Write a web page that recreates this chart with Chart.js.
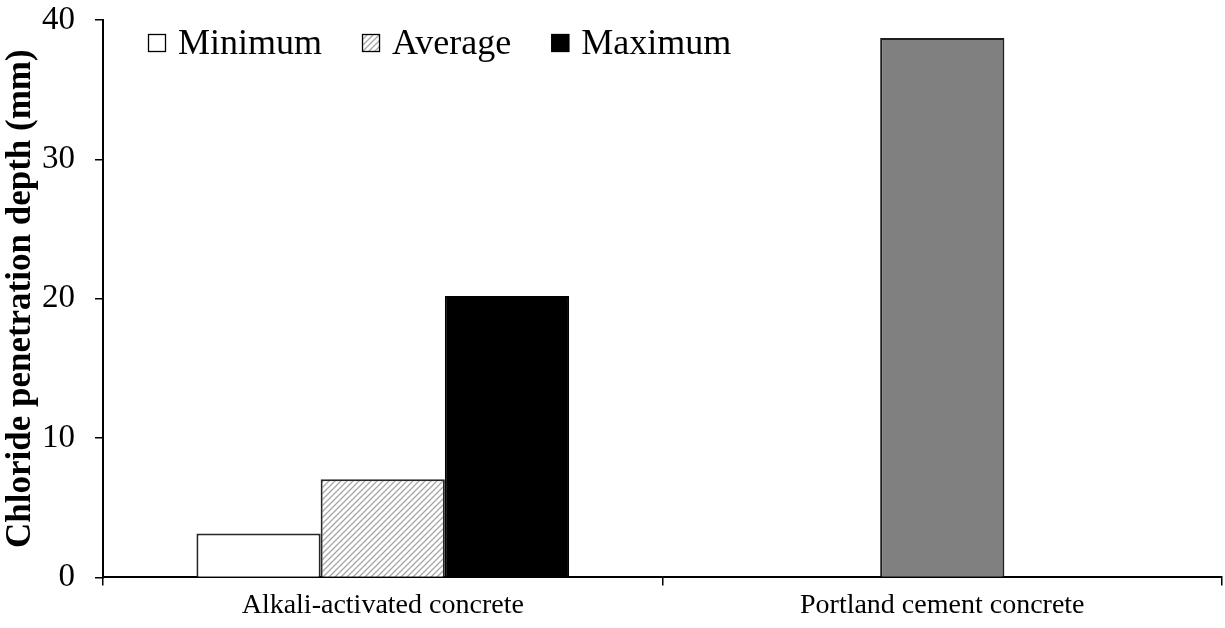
<!DOCTYPE html>
<html>
<head>
<meta charset="utf-8">
<script src="https://cdn.jsdelivr.net/npm/chart.js@4/dist/chart.umd.min.js"></script>
<style>
  html, body { margin: 0; padding: 0; background: #fff; }
  #wrap { width: 1225px; height: 628px; }
</style>
</head>
<body>
<div id="wrap"><canvas id="c" width="1225" height="628"></canvas></div>
<script>
// Chloride penetration depth (mm)
const categories = ['Alkali-activated concrete', 'Portland cement concrete'];
const minimumDepth = [3.15, null];
const averageDepth = [7.05, null];
const maximumDepth = [20.2, null];
const portlandDepth = [null, 38.7];
const yTicks = [0, 10, 20, 30, 40];

const SERIF = '"Liberation Serif", "Times New Roman", serif';
const canvas = document.getElementById('c');
const ctx = canvas.getContext('2d');

// diagonal hatch fill for the "Average" series
function makeHatch() {
  const t = document.createElement('canvas');
  t.width = 6; t.height = 6;
  const g = t.getContext('2d');
  g.fillStyle = '#ffffff';
  g.fillRect(0, 0, 6, 6);
  g.strokeStyle = '#a6a6a6';
  g.lineWidth = 1.3;
  g.beginPath();
  g.moveTo(-1, 7); g.lineTo(7, -1);
  g.moveTo(-1, 1); g.lineTo(1, -1);
  g.moveTo(5, 7); g.lineTo(7, 5);
  g.stroke();
  return ctx.createPattern(t, 'repeat');
}
const hatch = makeHatch();

// legend drawn inside the plot area, top-left
const insideLegend = {
  id: 'insideLegend',
  afterDraw(chart) {
    const c = chart.ctx;
    const items = chart.data.datasets.filter(d => d.inLegend);
    const fontSize = 36;
    const box = 18;
    const cy = 43;
    let x = 148;
    c.save();
    c.font = fontSize + 'px ' + SERIF;
    c.textBaseline = 'middle';
    c.textAlign = 'left';
    items.forEach(d => {
      c.fillStyle = d.backgroundColor;
      c.fillRect(x, cy - box / 2, box, box);
      c.strokeStyle = '#000';
      c.lineWidth = 1.3;
      c.strokeRect(x + 0.5, cy - box / 2 + 0.5, box - 1, box - 1);
      const tx = x + box + 12;
      c.fillStyle = '#000';
      c.fillText(d.label, tx, cy + 2);
      x = tx + c.measureText(d.label).width + 40;
    });
    c.restore();
  }
};

new Chart(ctx, {
  type: 'bar',
  data: {
    labels: categories,
    datasets: [
      { label: 'Minimum', data: minimumDepth, stack: 'min', inLegend: true,
        backgroundColor: '#ffffff', borderColor: '#262626', borderWidth: 2 },
      { label: 'Average', data: averageDepth, stack: 'avg', inLegend: true,
        backgroundColor: hatch, borderColor: '#262626', borderWidth: 2 },
      { label: 'Maximum', data: maximumDepth, stack: 'max', inLegend: true,
        backgroundColor: '#000000', borderColor: '#000000', borderWidth: 2 },
      { label: 'Portland cement', data: portlandDepth, stack: 'avg', inLegend: false,
        backgroundColor: '#808080', borderColor: '#1e1e1e', borderWidth: 2 }
    ]
  },
  options: {
    responsive: false,
    animation: false,
    devicePixelRatio: 1,
    categoryPercentage: 0.666,
    barPercentage: 1.0,
    layout: { padding: { top: 20, right: 3, bottom: 3, left: 0 } },
    plugins: {
      legend: { display: false },
      tooltip: { enabled: false }
    },
    scales: {
      x: {
        grid: { offset: true, drawOnChartArea: false, tickLength: 8, color: '#000', lineWidth: 1.5 },
        border: { color: '#000', width: 2 },
        ticks: { color: '#000', font: { family: SERIF, size: 28 }, padding: 3, maxRotation: 0 }
      },
      y: {
        min: 0,
        max: 40,
        afterBuildTicks(scale) { scale.ticks = yTicks.map(v => ({ value: v })); },
        afterFit(scale) {
          scale.width = 103;
          scale.paddingTop = 0;
          scale.paddingBottom = 0;
        },
        grid: { drawOnChartArea: false, tickLength: 8, color: '#000', lineWidth: 1.5 },
        border: { color: '#000', width: 2 },
        ticks: { color: '#000', font: { family: SERIF, size: 33 }, padding: 20 },
        title: {
          display: true,
          text: 'Chloride penetration depth (mm)',
          color: '#000',
          font: { family: SERIF, size: 35, weight: 'bold' },
          padding: { top: 0, bottom: 0 }
        }
      }
    }
  },
  plugins: [insideLegend]
});
</script>
</body>
</html>
